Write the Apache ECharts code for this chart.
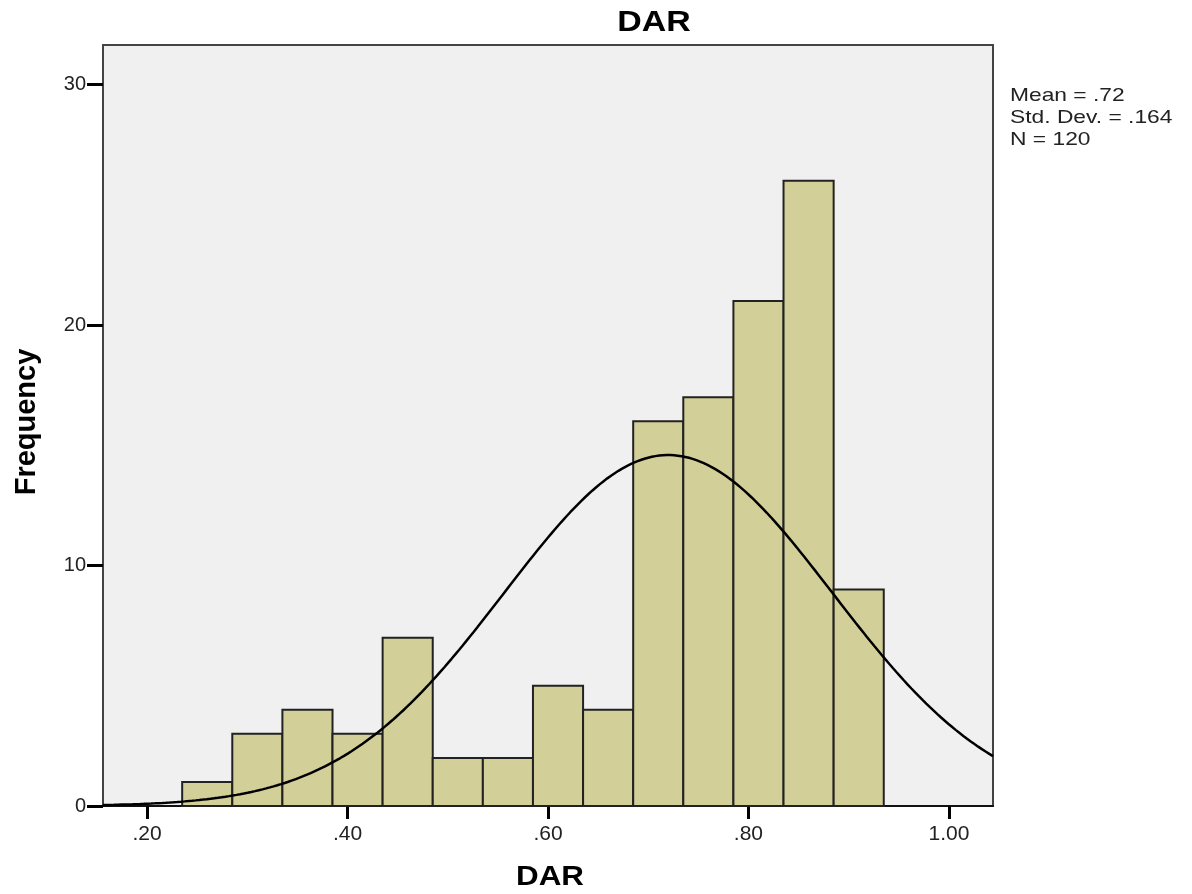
<!DOCTYPE html>
<html>
<head>
<meta charset="utf-8">
<script src="https://cdn.jsdelivr.net/npm/echarts@6/dist/echarts.min.js"></script>
<style>
  html, body { margin: 0; padding: 0; background: #fff; }
  #chart { width: 1192px; height: 894px; }
</style>
</head>
<body>
<div id="chart"></div>
<script>
// histogram bins (left edge of each bin) and counts
const binStarts = [0.235, 0.285, 0.335, 0.385, 0.435, 0.485, 0.535, 0.585, 0.635, 0.685, 0.735, 0.785, 0.835, 0.885];
const binWidth = 0.05;
const counts = [1, 3, 4, 3, 7, 2, 2, 5, 4, 16, 17, 21, 26, 9];

// stats printed beside the plot
const mean = 0.72;
const stdDev = 0.164;
const n = 120;

const xTicks = [0.2, 0.4, 0.6, 0.8, 1.0];
const yTicks = [0, 10, 20, 30];

const xMin = 0.156, xMax = 1.044;
const yMin = 0, yMax = 31.65;

// normal curve drawn by SPSS from mean / sd / N (scaled to bin width)
const curve = [];
for (let i = 0; i <= 240; i++) {
  const x = xMin + (xMax - xMin) * i / 240;
  const z = (x - mean) / stdDev;
  const y = n * binWidth / (stdDev * Math.sqrt(2 * Math.PI)) * Math.exp(-0.5 * z * z);
  curve.push([x, y]);
}

const chart = echarts.init(document.getElementById('chart'));
const font = '"Liberation Sans", Arial, sans-serif';

const option = {
  animation: false,
  grid: {
    left: 103, right: 199, top: 45, bottom: 88,
    show: true,
    backgroundColor: '#f0f0f0',
    borderColor: '#444',
    borderWidth: 2
  },
  xAxis: {
    type: 'value',
    min: xMin, max: xMax,
    axisLine: { show: true, lineStyle: { color: '#111', width: 2 } },
    axisTick: { show: true, customValues: xTicks, length: 13, lineStyle: { color: '#000', width: 3 } },
    axisLabel: {
      customValues: xTicks,
      margin: 18,
      color: '#222',
      fontSize: 21,
      fontFamily: font,
      formatter: v => (v >= 1 ? v.toFixed(2) : v.toFixed(2).replace(/^0/, ''))
    },
    splitLine: { show: false }
  },
  yAxis: {
    type: 'value',
    min: yMin, max: yMax,
    axisLine: { show: true, lineStyle: { color: '#444', width: 2 } },
    axisTick: { show: true, customValues: yTicks, length: 16, lineStyle: { color: '#000', width: 3 } },
    axisLabel: {
      customValues: yTicks,
      margin: 17,
      color: '#222',
      fontSize: 20,
      fontFamily: font
    },
    splitLine: { show: false }
  },
  series: [
    {
      type: 'custom',
      data: binStarts.map((s, i) => [s, s + binWidth, counts[i]]),
      renderItem: (params, api) => {
        const p0 = api.coord([api.value(0), api.value(2)]);
        const p1 = api.coord([api.value(1), 0]);
        return {
          type: 'rect',
          shape: { x: p0[0], y: p0[1], width: p1[0] - p0[0], height: p1[1] - p0[1] },
          style: { fill: '#d3cf99', stroke: '#222', lineWidth: 2 }
        };
      },
      z: 2
    },
    {
      type: 'line',
      data: curve,
      showSymbol: false,
      smooth: false,
      lineStyle: { color: '#000', width: 2.5 },
      z: 3
    }
  ],
  graphic: [
    {
      type: 'text', x: 654, y: 23, scaleX: 1.13,
      style: { text: 'DAR', font: 'bold 30px ' + font, fill: '#000', align: 'center', verticalAlign: 'middle' }
    },
    {
      type: 'text', x: 550, y: 877, scaleX: 1.12,
      style: { text: 'DAR', font: 'bold 28px ' + font, fill: '#000', align: 'center', verticalAlign: 'middle' }
    },
    {
      type: 'text', x: 27, y: 422, rotation: Math.PI / 2,
      style: { text: 'Frequency', font: 'bold 29px ' + font, fill: '#000', align: 'center', verticalAlign: 'middle' }
    },
    {
      type: 'text', x: 1010, y: 85, scaleX: 1.2,
      style: { text: 'Mean = .72\nStd. Dev. = .164\nN = 120', font: '19px ' + font, lineHeight: 22, fill: '#222' }
    }
  ]
};

chart.setOption(option);
</script>
</body>
</html>
